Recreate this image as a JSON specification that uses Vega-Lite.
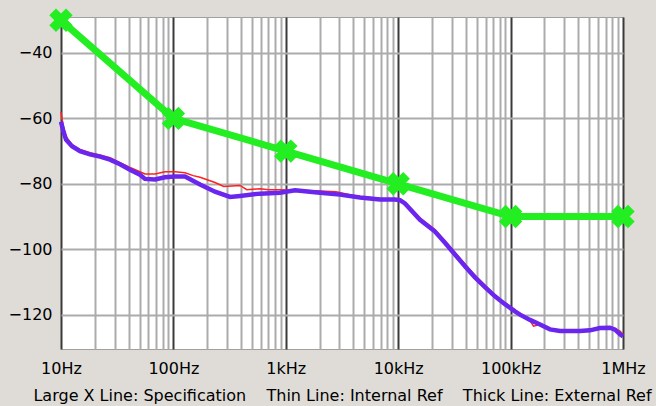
{
  "$schema": "https://vega.github.io/schema/vega-lite/v6.json",
  "width": 562,
  "height": 332,
  "autosize": {"type": "none"},
  "padding": {"left": 61, "top": 17, "right": 33, "bottom": 57},
  "background": "#dfdcd7",
  "config": {
    "view": {"fill": "#ffffff", "stroke": "#a0a0a0", "strokeWidth": 1},
    "font": "DejaVu Sans"
  },
  "encoding": {
    "x": {
      "field": "freq", "type": "quantitative",
      "scale": {"type": "log", "domain": [10, 1000000], "nice": false},
      "axis": {
        "values": [10,20,30,40,50,60,70,80,90,100,200,300,400,500,600,700,800,900,1000,2000,3000,4000,5000,6000,7000,8000,9000,10000,20000,30000,40000,50000,60000,70000,80000,90000,100000,200000,300000,400000,500000,600000,700000,800000,900000,1000000],
        "grid": true,
        "gridWidth": 2,
        "gridColor": {"condition": {"test": "indexof([10,100,1000,10000,100000,1000000], datum.value) >= 0", "value": "#3a3a3a"}, "value": "#ababab"},
        "gridOpacity": 1,
        "ticks": false,
        "domain": false,
        "labelExpr": "datum.value == 10 ? '10Hz' : datum.value == 100 ? '100Hz' : datum.value == 1000 ? '1kHz' : datum.value == 10000 ? '10kHz' : datum.value == 100000 ? '100kHz' : datum.value == 1000000 ? '1MHz' : ''",
        "labelFontSize": 16,
        "labelColor": "#000000",
        "labelPadding": 11,
        "labelOverlap": false,
        "labelFlush": false,
        "title": "Large X Line: Specification\u00a0\u00a0\u00a0 Thin Line: Internal Ref\u00a0\u00a0\u00a0 Thick Line: External Ref",
        "titleFontSize": 16,
        "titleFontWeight": "normal",
        "titleColor": "#000000",
        "titlePadding": 11
      }
    },
    "y": {
      "field": "level", "type": "quantitative",
      "scale": {"domain": [-130.5, -29], "nice": false, "zero": false},
      "axis": {
        "values": [-120, -100, -80, -60, -40],
        "grid": true,
        "gridWidth": 2,
        "gridColor": "#ababab",
        "gridOpacity": 1,
        "ticks": false,
        "domain": false,
        "labelFontSize": 16,
        "labelColor": "#000000",
        "labelPadding": 9,
        "title": null
      }
    }
  },
  "layer": [
    {
      "data": {"values": [
        {"freq": 10, "level": -58}, {"freq": 10.42, "level": -62}, {"freq": 11.08, "level": -65.5},
        {"freq": 12.53, "level": -68}, {"freq": 14.76, "level": -69.5}, {"freq": 18.11, "level": -70.5},
        {"freq": 22.23, "level": -71.2}, {"freq": 27.29, "level": -72}, {"freq": 33.5, "level": -73.5},
        {"freq": 41.1, "level": -75}, {"freq": 50.4, "level": -76.3}, {"freq": 55.9, "level": -77},
        {"freq": 68.6, "level": -77}, {"freq": 84.2, "level": -76.3}, {"freq": 103.3, "level": -76.3},
        {"freq": 126.8, "level": -76.6}, {"freq": 150, "level": -77.5}, {"freq": 172.6, "level": -78},
        {"freq": 234.5, "level": -79.6}, {"freq": 280, "level": -80.8}, {"freq": 391.5, "level": -80.5},
        {"freq": 450, "level": -81.8}, {"freq": 589, "level": -81.5}, {"freq": 700, "level": -81.8},
        {"freq": 887, "level": -81.8}, {"freq": 1207, "level": -82}, {"freq": 2015, "level": -82.2},
        {"freq": 2800, "level": -82.4}, {"freq": 3700, "level": -83.3}, {"freq": 4571, "level": -83.9},
        {"freq": 6887, "level": -84.5}, {"freq": 9373, "level": -84.8}, {"freq": 10375, "level": -85},
        {"freq": 11482, "level": -86}, {"freq": 15631, "level": -90.5}, {"freq": 21240, "level": -94},
        {"freq": 26070, "level": -97.5}, {"freq": 31990, "level": -101}, {"freq": 39270, "level": -104.5},
        {"freq": 48200, "level": -108}, {"freq": 59160, "level": -111}, {"freq": 72620, "level": -114},
        {"freq": 89130, "level": -116.5}, {"freq": 109400, "level": -118.5}, {"freq": 121300, "level": -120},
        {"freq": 148900, "level": -121.8}, {"freq": 160000, "level": -123.5}, {"freq": 182800, "level": -123},
        {"freq": 223900, "level": -124.5}, {"freq": 275400, "level": -125}, {"freq": 414000, "level": -125},
        {"freq": 508200, "level": -124.8}, {"freq": 623700, "level": -124.3}, {"freq": 765600, "level": -124},
        {"freq": 849000, "level": -124.2}, {"freq": 940000, "level": -125}, {"freq": 1000000, "level": -126}
      ]},
      "mark": {"type": "line", "color": "#ff2020", "strokeWidth": 1.5}
    },
    {
      "data": {"values": [
        {"freq": 10, "level": -61}, {"freq": 10.42, "level": -63.5}, {"freq": 11.08, "level": -66.5},
        {"freq": 12.53, "level": -68.5}, {"freq": 14.76, "level": -70}, {"freq": 18.11, "level": -71},
        {"freq": 22.23, "level": -71.7}, {"freq": 27.29, "level": -72.6}, {"freq": 33.5, "level": -74},
        {"freq": 41.1, "level": -75.7}, {"freq": 50.4, "level": -77.2}, {"freq": 55.9, "level": -78.5},
        {"freq": 68.6, "level": -78.7}, {"freq": 84.2, "level": -78}, {"freq": 103.3, "level": -77.8},
        {"freq": 126.8, "level": -77.8}, {"freq": 172.6, "level": -80.2}, {"freq": 234.5, "level": -82.4},
        {"freq": 319, "level": -84}, {"freq": 391.5, "level": -83.7}, {"freq": 589, "level": -83},
        {"freq": 887, "level": -82.7}, {"freq": 1207, "level": -82}, {"freq": 2015, "level": -82.7},
        {"freq": 3034, "level": -83.3}, {"freq": 4571, "level": -84.2}, {"freq": 6887, "level": -84.8},
        {"freq": 9373, "level": -84.8}, {"freq": 10375, "level": -85}, {"freq": 11482, "level": -86},
        {"freq": 15631, "level": -91}, {"freq": 21240, "level": -94.6}, {"freq": 26070, "level": -98},
        {"freq": 31990, "level": -101.6}, {"freq": 39270, "level": -105.2}, {"freq": 48200, "level": -108.6},
        {"freq": 59160, "level": -111.6}, {"freq": 72620, "level": -114.4}, {"freq": 89130, "level": -116.8},
        {"freq": 109400, "level": -119}, {"freq": 121300, "level": -120}, {"freq": 148900, "level": -121.6},
        {"freq": 182800, "level": -123}, {"freq": 223900, "level": -124.5}, {"freq": 275400, "level": -125},
        {"freq": 414000, "level": -125}, {"freq": 508200, "level": -124.8}, {"freq": 623700, "level": -124.1},
        {"freq": 765600, "level": -124}, {"freq": 849000, "level": -124.6}, {"freq": 940000, "level": -126},
        {"freq": 1000000, "level": -126.6}
      ]},
      "mark": {"type": "line", "color": "#6a26ee", "strokeWidth": 4.5}
    },
    {
      "data": {"values": [
        {"freq": 10, "level": -30}, {"freq": 100, "level": -60}, {"freq": 1000, "level": -70},
        {"freq": 10000, "level": -80}, {"freq": 100000, "level": -90}, {"freq": 1000000, "level": -90}
      ]},
      "layer": [
        {"mark": {"type": "line", "color": "#22ee22", "strokeWidth": 7, "clip": false}},
        {"mark": {"type": "point", "shape": "cross", "angle": 45, "size": 560, "filled": true, "opacity": 1, "color": "#22ee22", "clip": false}}
      ]
    }
  ]
}
